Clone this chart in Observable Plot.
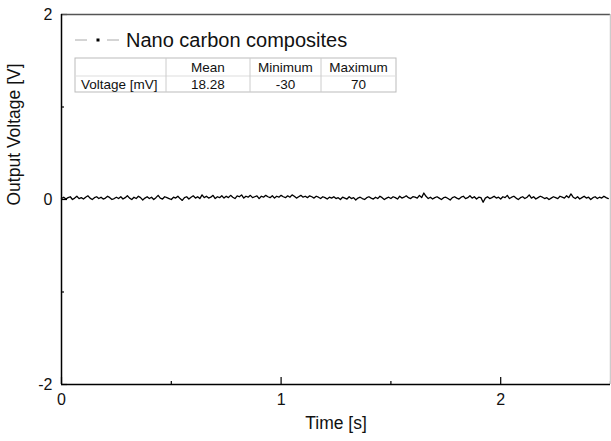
<!DOCTYPE html>
<html>
<head>
<meta charset="utf-8">
<script src="https://cdn.jsdelivr.net/npm/d3@7"></script>
<script src="https://cdn.jsdelivr.net/npm/@observablehq/plot@0.6"></script>
<style>
  html, body { margin: 0; padding: 0; background: #fff; }
  #chart { position: relative; width: 611px; height: 441px; }
  svg { font-family: "Liberation Sans", Arial, sans-serif; }
</style>
</head>
<body>
<div id="chart"></div>
<script>
// ---- data ----
const seriesName = "Nano carbon composites";
const dt = 0.01; // s between samples
// Output voltage samples in mV (t = 0 .. 2.49 s)
const voltageMv = [
  10, 25, 5, 20, 30, 0, 15, 35, 10, 20, 5, 25, 40, 15, 0, 20, 30, 10, 25, 5, 15, 35, 20, 0, 10,
  25, 10, 30, 5, 20, 40, 15, 0, 25, 10, 35, 20, -5, 15, 30, 10, 25, 0, 20, 45, 15, 5, 30, 20, 10,
  0, 25, 15, 35, 10, -10, 20, 30, 5, 25, 40, 15, 30, 10, 50, 20, 35, 15, 25, 45, 10, 30, 20, 40, 15,
  35, 20, 45, 25, 10, 40, 30, 50, 15, 35, 25, 45, 20, 30, 40, 10, 35, 25, 45, 30, 20, 40, 15, 35, 25,
  45, 30, 20, 40, 25, 50, 35, 15, 30, 45, 25, 35, 20, 40, 30, 15, 35, 25, 10, 30, 20, 5, 25, 15, 30,
  10, 20, 0, 25, 15, 5, 30, 10, 20, -5, 15, 25, 10, 0, 20, 30, 15, 5, 25, 10, 35, 20, 0, 15, 25,
  10, 30, 20, 5, 35, 15, 25, 40, 20, 10, 30, 25, 15, 45, 20, 70, 35, 10, 25, 5, 20, 30, 15, 0, 20,
  25, 10, -5, 20, 30, 15, 5, 25, 35, 10, 20, 40, 15, 30, 5, 25, 20, -30, 15, 30, 10, 20, 35, 15, 25,
  5, 30, 20, 45, 10, 25, 35, 15, 0, 20, 30, 10, 25, 50, 15, 30, 5, 20, 35, 25, 10, 20, 0, 15, 30,
  20, 10, 35, 25, 15, 40, 20, 60, 25, 10, 30, 5, 20, 35, 15, 25, 0, 20, 30, 10, 25, 15, 35, 20, 10
];
const xDomain = [0, 2.5];
const yDomain = [-2, 2];
const xMajorTicks = [0, 1, 2];
const xMinorTicks = [0.5, 1.5, 2.5];
const yMajorTicks = [-2, 0, 2];
const yMinorTicks = [-1, 1];
const xLabel = "Time [s]";
const yLabel = "Output Voltage [V]";
const tableHeader = ["", "Mean", "Minimum", "Maximum"];
const tableRow = ["Voltage [mV]", "18.28", "-30", "70"];

const points = voltageMv.map((v, i) => ({t: i * dt, v: v / 1000}));

// ---- layout ----
const W = 611, H = 441;
const mL = 61, mR = 1, mT = 14, mB = 57;
const plotW = W - mL - mR, plotH = H - mT - mB;
const font = "Liberation Sans, Arial, sans-serif";

const chart = Plot.plot({
  width: W, height: H,
  marginLeft: mL, marginRight: mR, marginTop: mT, marginBottom: mB,
  style: {fontFamily: font, background: "#fff", overflow: "visible"},
  x: {domain: xDomain, label: null},
  y: {domain: yDomain, label: null},
  marks: [
    // tick labels
    Plot.axisX({ticks: xMajorTicks, tickSize: 0, tickPadding: 9, fontSize: 16, fill: "#111", label: null, tickFormat: d => String(d)}),
    Plot.axisY({ticks: yMajorTicks, tickSize: 0, tickPadding: 9, fontSize: 16, fill: "#111", label: null, tickFormat: d => String(d)}),
    // inward ticks
    Plot.ruleX(xMajorTicks, {x: d => d, insetTop: plotH - 7, stroke: "#000", strokeWidth: 1.2}),
    Plot.ruleX(xMinorTicks, {x: d => d, insetTop: plotH - 3, stroke: "#000", strokeWidth: 1.2}),
    Plot.ruleY(yMajorTicks, {y: d => d, insetRight: plotW - 6, stroke: "#000", strokeWidth: 1.2}),
    Plot.ruleY(yMinorTicks, {y: d => d, insetRight: plotW - 3, stroke: "#000", strokeWidth: 1.2}),
    // frame
    Plot.ruleY([yDomain[1]], {stroke: "#555", strokeWidth: 1.5}),
    Plot.ruleX([xDomain[1]], {stroke: "#ccc", strokeWidth: 1.5}),
    Plot.ruleX([xDomain[0]], {stroke: "#000", strokeWidth: 1.5}),
    Plot.ruleY([yDomain[0]], {stroke: "#000", strokeWidth: 1.5}),
    // signal
    Plot.line(points, {x: "t", y: "v", stroke: "#000", strokeWidth: 1.3}),
    // axis titles
    Plot.text([xLabel], {frameAnchor: "bottom", dy: 44, fontSize: 17.5, fill: "#111", text: d => d}),
    Plot.text([yLabel], {frameAnchor: "left", dx: -47, dy: 6, rotate: -90, fontSize: 17.5, fill: "#111", text: d => d})
  ]
});
document.getElementById("chart").appendChild(chart);

// ---- legend + statistics table ----
const svg = d3.select(chart);
const g = svg.append("g").attr("font-family", font);
// legend symbol
g.append("line").attr("x1", 75).attr("x2", 87).attr("y1", 40).attr("y2", 40).attr("stroke", "#aaa").attr("stroke-width", 1);
g.append("line").attr("x1", 107).attr("x2", 119).attr("y1", 40).attr("y2", 40).attr("stroke", "#aaa").attr("stroke-width", 1);
g.append("rect").attr("x", 96.5).attr("y", 38.5).attr("width", 3).attr("height", 3).attr("fill", "#000");
g.append("text").attr("x", 126).attr("y", 46.5).attr("text-anchor", "start").attr("font-size", 20).attr("fill", "#111").text(seriesName);

// table
const colX = [75, 166, 250, 321, 396];
const rowY = [58, 76, 92];
g.append("rect").attr("x", colX[0]).attr("y", rowY[0]).attr("width", colX[4] - colX[0]).attr("height", rowY[2] - rowY[0])
  .attr("fill", "#fff").attr("stroke", "#bbb").attr("stroke-width", 1);
g.append("line").attr("x1", colX[0]).attr("x2", colX[4]).attr("y1", rowY[1]).attr("y2", rowY[1]).attr("stroke", "#ddd");
for (let i = 1; i < 4; i++) {
  g.append("line").attr("x1", colX[i]).attr("x2", colX[i]).attr("y1", rowY[0]).attr("y2", rowY[2]).attr("stroke", "#ccc");
}
[tableHeader, tableRow].forEach((row, r) => {
  row.forEach((txt, c) => {
    if (!txt) return;
    const cx = c === 0 ? colX[0] + 6 : (colX[c] + colX[c + 1]) / 2;
    g.append("text").attr("x", cx).attr("y", r === 0 ? 72 : 88.5)
      .attr("text-anchor", c === 0 ? "start" : "middle")
      .attr("font-size", 13.5).attr("fill", "#111").text(txt);
  });
});
</script>
</body>
</html>
